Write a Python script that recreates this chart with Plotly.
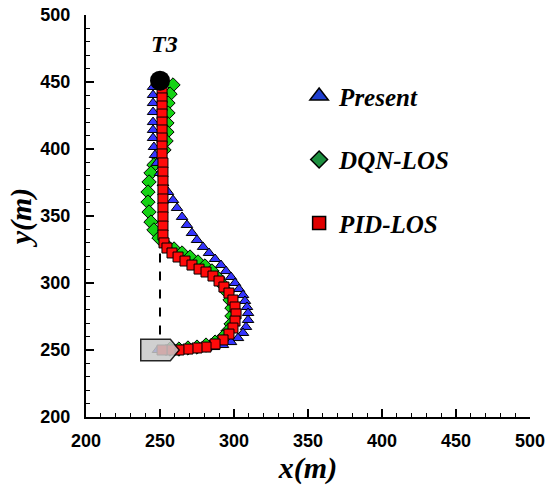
import plotly.graph_objects as go

# trajectories (x, y in metres)
present_x = [245.3, 245.3, 245.3, 245.3, 245.3, 245.3, 245.3, 245.9, 246.6, 248.0,
             250.0, 252.0, 255.4, 258.8, 261.5, 264.9, 268.2, 271.6, 275.0, 279.1,
             283.1, 287.2, 291.2, 294.6, 298.0, 300.7, 303.4, 306.1, 307.4, 308.8,
             309.5, 309.5, 308.1, 306.1, 302.7, 298.0, 292.6, 286.5, 281.1, 275.7,
             270.3, 264.9, 259.5, 254.1, 248.6]
present_y = [446.3, 440.3, 434.3, 427.6, 420.1, 414.2, 408.2, 401.5, 395.5, 389.6,
             382.1, 374.6, 367.9, 361.9, 356.0, 349.3, 343.3, 337.3, 332.1, 326.9,
             322.4, 317.9, 313.4, 308.9, 304.5, 300.0, 295.5, 291.0, 286.6, 282.1,
             277.6, 272.4, 267.2, 262.7, 258.9, 255.9, 253.7, 252.2, 251.5, 250.7,
             250.0, 250.0, 250.0, 250.0, 250.0]

dqn_x = [258.8, 256.8, 255.4, 255.4, 254.7, 254.7, 254.1, 252.7, 249.3, 245.9,
         243.9, 242.6, 241.9, 241.9, 242.6, 243.9, 245.9, 249.3, 254.1, 259.5,
         264.9, 270.3, 275.7, 280.4, 285.1, 289.2, 292.6, 295.3, 297.3, 298.6,
         298.6, 298.0, 295.9, 292.6, 287.2, 281.1, 275.0, 268.9, 262.8, 256.8]
dqn_y = [447.8, 441.0, 434.3, 426.9, 419.4, 412.7, 406.0, 399.3, 393.3, 388.1,
         382.1, 375.4, 367.9, 360.4, 353.0, 345.5, 339.6, 333.6, 328.4, 325.4,
         322.4, 319.4, 315.7, 312.7, 309.0, 303.7, 298.5, 293.3, 287.3, 281.3,
         275.4, 269.4, 264.2, 259.7, 255.9, 253.7, 252.2, 251.5, 250.7, 250.7]

pid_x = [251.4, 251.4, 251.4, 251.4, 251.4, 251.4, 251.4, 251.4, 251.4, 252.0,
         252.0, 252.0, 252.0, 252.0, 252.0, 252.0, 252.0, 252.0, 252.7, 254.7,
         258.1, 262.2, 266.9, 271.6, 276.4, 281.1, 285.8, 289.9, 293.2, 296.6,
         299.3, 300.7, 301.4, 300.7, 299.3, 296.6, 292.6, 287.2, 281.1, 275.0,
         268.9, 262.8, 256.8, 251.4]
pid_y = [444.0, 438.1, 432.1, 426.1, 420.1, 414.2, 408.2, 402.2, 396.3, 389.6,
         382.8, 376.1, 369.4, 362.7, 356.0, 349.3, 342.5, 335.8, 329.9, 326.1,
         322.4, 319.4, 316.4, 313.4, 310.4, 308.2, 305.2, 301.5, 297.0, 292.5,
         287.3, 282.1, 276.9, 271.6, 266.4, 261.9, 257.5, 254.5, 252.2, 251.5,
         250.7, 250.0, 250.0, 250.0]

start_x, start_y = [250], [451]
guide_x = [250, 250]
guide_y = [322, 261]

fig = go.Figure()

fig.add_trace(go.Scatter(x=guide_x, y=guide_y, mode="lines", showlegend=False,
                         line=dict(color="black", width=2, dash="dash")))
fig.add_trace(go.Scatter(x=dqn_x, y=dqn_y, mode="markers", showlegend=False,
                         marker=dict(symbol="diamond", size=11, color="#14d214",
                                     line=dict(color="black", width=1))))
fig.add_trace(go.Scatter(x=present_x, y=present_y, mode="markers", showlegend=False,
                         marker=dict(symbol="triangle-up", size=10, color="#3535ff",
                                     line=dict(color="black", width=1))))
fig.add_trace(go.Scatter(x=pid_x, y=pid_y, mode="markers", showlegend=False,
                         marker=dict(symbol="square", size=10, color="#ff0a0a",
                                     line=dict(color="black", width=1))))
fig.add_trace(go.Scatter(x=start_x, y=start_y, mode="markers", showlegend=False,
                         marker=dict(symbol="circle", size=20, color="black")))

# legend-only entries (bigger symbols than on the path)
legend_items = [("Present", "triangle-up", 17, "#1f3fd0"),
                ("DQN-LOS", "diamond", 13, "#1e9040"),
                ("PID-LOS", "square", 13, "#e00000")]
for name, sym, sz, col in legend_items:
    fig.add_trace(go.Scatter(x=[None], y=[None], mode="markers", name=name,
                             legendgroup=name,
                             marker=dict(symbol=sym, size=sz, color=col,
                                         line=dict(color="black", width=1.5))))

# boat at the end point
fig.add_shape(type="path", xref="x", yref="y", layer="above", opacity=0.85,
              path="M 237,258 L 257,258 L 263,250 L 257,242 L 237,242 Z",
              fillcolor="#c8c8c8", line=dict(color="black", width=1.5))

fig.add_annotation(x=253, y=478, text="T3", showarrow=False,
                   font=dict(family="Liberation Serif", size=24, color="black",
                             weight="bold", style="italic"))

axis_common = dict(range=[200, 500], dtick=50, showgrid=False, zeroline=False,
                   automargin=False,
                   showline=True, linecolor="black", linewidth=2,
                   ticks="inside", ticklen=8, tickwidth=2, tickcolor="black",
                   minor=dict(ticks="inside", ticklen=4, tickwidth=1,
                              tickcolor="black", dtick=10),
                   tickfont=dict(family="Liberation Sans", size=18,
                                 color="black", weight="bold"))

fig.update_xaxes(**axis_common, ticklabelstandoff=6,
                 title=dict(text="x(m)", standoff=4,
                            font=dict(family="Liberation Serif", size=30,
                                      color="black", weight="bold", style="italic")))
fig.update_yaxes(**axis_common, ticklabelstandoff=10,
                 title=dict(text="y(m)", standoff=0,
                            font=dict(family="Liberation Serif", size=30,
                                      color="black", weight="bold", style="italic")))

fig.update_layout(
    width=550, height=494,
    margin=dict(l=86, r=20, t=15, b=77),
    paper_bgcolor="white", plot_bgcolor="white",
    legend=dict(x=0.48, y=0.855, xanchor="left", yanchor="top",
                tracegroupgap=28, bgcolor="rgba(0,0,0,0)",
                font=dict(family="Liberation Serif", size=25, color="black",
                          weight="bold", style="italic")),
)

# drop the default 8px page margin so the figure fills the window exactly
fig.write_html("out.html", config={"displayModeBar": False},
               post_script="document.body.style.margin = '0';")
